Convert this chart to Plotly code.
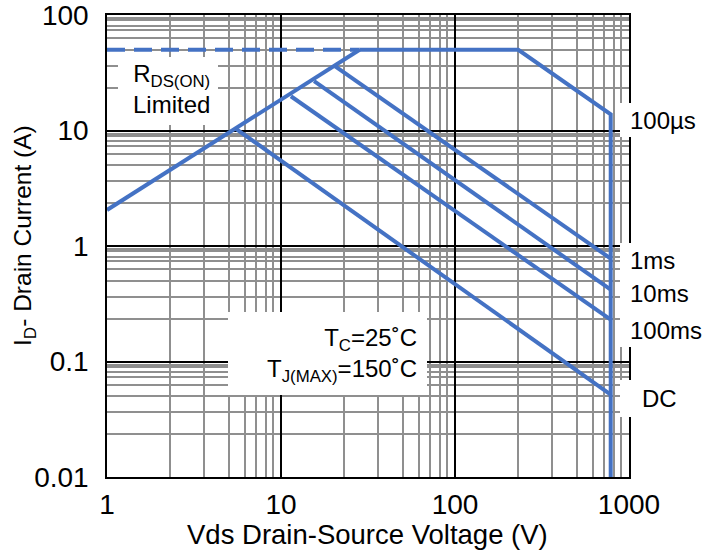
import plotly.graph_objects as go

# ---------------- data ----------------
vds_rds = [1, 28.3]
id_rds = [2.05, 50]
vds_rds_dash = [1, 28.3]
id_rds_dash = [50, 50]
vds_100us = [28.3, 231, 785, 785]
id_100us = [50, 50, 13.8, 0.01]
vds_1ms = [20.4, 785]
id_1ms = [36.1, 0.778]
vds_10ms = [15.5, 785]
id_10ms = [26.8, 0.419]
vds_100ms = [11.4, 785]
id_100ms = [19.8, 0.230]
vds_dc = [5.51, 785]
id_dc = [10.35, 0.0517]

x_tickvals = [1, 10, 100, 1000]
x_ticktext = ["1", "10", "100", "1000"]
y_tickvals = [0.01, 0.1, 1, 10, 100]
y_ticktext = ["0.01", "0.1", "1", "10", "100"]

x_minor_mult = [2.3, 3.6, 5, 6.2, 7.2, 8.2, 9]
y_minor_mult = [2.35, 3.65, 5, 6.3, 7.4, 8.1, 9, 9.4]
x_decades = [1, 10, 100]
y_decades = [0.01, 0.1, 1, 10]

labels = ["100µs", "1ms", "10ms", "100ms", "DC"]
x_title = "Vds Drain-Source Voltage (V)"
y_title = "I<sub>D</sub>- Drain Current (A)"

# ---------------- layout helpers ----------------
W, H = 707, 554
L, R, T, B = 107, 629, 15, 477


def px(x):
    return (x - L) / (R - L)


def py(y):
    return (B - y) / (B - T)


BLUE = "#4472C4"
FONT = "Liberation Sans, Arial, sans-serif"

fig = go.Figure()
line = dict(color=BLUE, width=4)
fig.add_trace(go.Scatter(x=vds_rds_dash, y=id_rds_dash, mode="lines",
                         line=dict(color=BLUE, width=4, dash="18px,9px")))
fig.add_trace(go.Scatter(x=vds_rds, y=id_rds, mode="lines", line=line))
fig.add_trace(go.Scatter(x=vds_100us, y=id_100us, mode="lines", line=line))
fig.add_trace(go.Scatter(x=vds_1ms, y=id_1ms, mode="lines", line=line))
fig.add_trace(go.Scatter(x=vds_10ms, y=id_10ms, mode="lines", line=line))
fig.add_trace(go.Scatter(x=vds_100ms, y=id_100ms, mode="lines", line=line))
fig.add_trace(go.Scatter(x=vds_dc, y=id_dc, mode="lines", line=line))

x_minor = [d * m for d in x_decades for m in x_minor_mult]
y_minor = [d * m for d in y_decades for m in y_minor_mult]

fig.update_xaxes(
    type="log", range=[0, 3], automargin=False,
    tickmode="array", tickvals=x_tickvals, ticktext=x_ticktext,
    showgrid=True, gridcolor="#000000", gridwidth=1.5,
    minor=dict(tickmode="array", tickvals=x_minor, showgrid=True,
               gridcolor="#8f8f8f", gridwidth=1.5, ticks=""),
    showline=True, linecolor="#000000", linewidth=1.5, mirror=True,
    ticks="", zeroline=False, ticklabeloverflow="allow",
    tickfont=dict(family=FONT, size=28, color="#000"),
    ticklabelstandoff=2,
)
fig.update_yaxes(
    type="log", range=[-2, 2], automargin=False,
    tickmode="array", tickvals=y_tickvals, ticktext=y_ticktext,
    showgrid=True, gridcolor="#000000", gridwidth=1.5,
    minor=dict(tickmode="array", tickvals=y_minor, showgrid=True,
               gridcolor="#8f8f8f", gridwidth=1.5, ticks=""),
    showline=True, linecolor="#000000", linewidth=1.5, mirror=True,
    ticks="", zeroline=False, ticklabeloverflow="allow",
    tickfont=dict(family=FONT, size=28, color="#000"),
    ticklabelstandoff=11,
)

# white label boxes
boxes = [
    (118, 57, 218, 125),   # RDS(ON) limited
    (228, 312, 427, 395),  # Tc / Tj
    (620, 103, 707, 137),  # 100us
    (620, 243, 707, 347),  # 1ms..100ms
    (620, 380, 707, 417),  # DC
]
shapes = []
for x0, y0, x1, y1 in boxes:
    shapes.append(dict(type="rect", xref="paper", yref="paper",
                       x0=px(x0), x1=px(x1), y0=py(y1), y1=py(y0),
                       fillcolor="white", line=dict(width=0), layer="above"))

ann_font = dict(family=FONT, size=24, color="#000")
annotations = [
    dict(text="R<sub>DS(ON)</sub><br>Limited", x=px(171), y=py(89),
         xanchor="center", yanchor="middle", align="center"),
    dict(text="T<sub>C</sub>=25˚C<br>T<sub>J(MAX)</sub>=150˚C", x=px(418), y=py(355),
         xanchor="right", yanchor="middle", align="right"),
]
label_pos = [(629, 120), (629, 260), (629, 293), (629, 330), (641, 398)]
for txt, (lx, ly) in zip(labels, label_pos):
    annotations.append(dict(text=txt, x=px(lx), y=py(ly), xanchor="left",
                            yanchor="middle", align="left"))
for a in annotations:
    a.update(xref="paper", yref="paper", showarrow=False, font=ann_font,
             borderpad=0)

# axis titles
annotations.append(dict(text=x_title, x=px(367.5), y=py(534), xref="paper", yref="paper",
                        xanchor="center", yanchor="middle", showarrow=False,
                        font=dict(family=FONT, size=27.5, color="#000")))
annotations.append(dict(text=y_title, x=px(25), y=py(236), xref="paper", yref="paper",
                        xanchor="center", yanchor="middle", showarrow=False,
                        textangle=-90,
                        font=dict(family=FONT, size=24.5, color="#000")))

fig.update_layout(
    width=W, height=H,
    margin=dict(l=L, r=W - R, t=T, b=H - B, pad=0, autoexpand=False),
    plot_bgcolor="white", paper_bgcolor="white",
    showlegend=False,
    shapes=shapes, annotations=annotations,
    font=dict(family=FONT),
)

fig.write_html("out.html")
